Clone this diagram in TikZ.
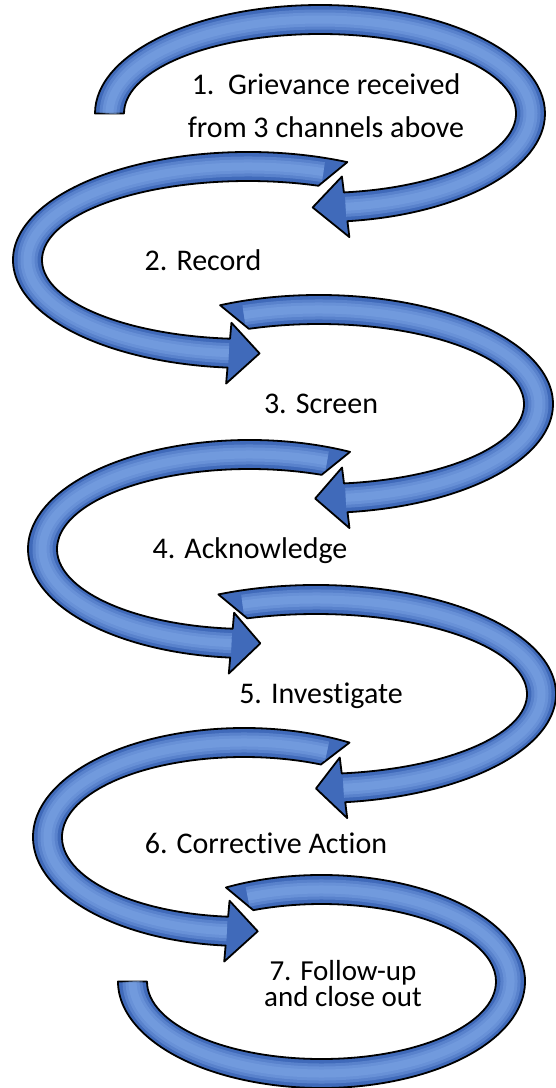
\documentclass[tikz,border=0pt]{standalone}
\usepackage{fontspec}
\setmainfont{Carlito}[Ligatures=NoCommon]

\definecolor{loopblue}{RGB}{64,106,186}
\definecolor{loopshine}{RGB}{128,168,232}

% band arrow: center, x radius, y radius, outer start, inner start, end, tip angle
\newcommand{\looparrow}[7]{%
  \pgfmathsetmacro{\lpix}{#2-29}\pgfmathsetmacro{\lpiy}{#3-29}%
  \pgfmathsetmacro{\lpmx}{#2-14.5}\pgfmathsetmacro{\lpmy}{#3-14.5}%
  \pgfmathsetmacro{\lpox}{#2+16}\pgfmathsetmacro{\lpoy}{#3+16}%
  \pgfmathsetmacro{\lpbx}{#2-45}\pgfmathsetmacro{\lpby}{#3-45}%
  \filldraw[band,shift={(#1)}] ({#2*cos(#4)},{#3*sin(#4)}) arc[start angle=#4,end angle=#6,x radius=#2,y radius=#3]
    -- ({\lpox*cos(#6)},{\lpoy*sin(#6)}) -- ({\lpmx*cos(#7)},{\lpmy*sin(#7)})
    -- ({\lpbx*cos(#6)},{\lpby*sin(#6)}) -- ({\lpix*cos(#6)},{\lpiy*sin(#6)})
    arc[start angle=#6,end angle=#5,x radius=\lpix,y radius=\lpiy] -- cycle;
  \foreach \w in {10,7,4}
    \draw[shine,line width=\w pt,shift={(#1)}] ({\lpmx*cos(#5)},{\lpmy*sin(#5)}) arc[start angle=#5,end angle=#6,x radius=\lpmx,y radius=\lpmy];
}

\begin{document}
\begin{tikzpicture}[x=0.5pt,y=-0.5pt]
\tikzstyle{band}=[fill=loopblue,draw=black,line width=0.9pt,line join=round]
\tikzstyle{shine}=[draw=loopshine,opacity=0.4]
\tikzstyle{steptext}=[font=\fontsize{15}{21.5}\selectfont,align=center,inner sep=0pt]
\useasboundingbox (0,0) rectangle (556,1088);

\coordinate (c1) at (320,113.5);
\coordinate (c2) at (248,260);
\coordinate (c3) at (319,404);
\coordinate (c4) at (249.5,549);
\coordinate (c5) at (316,694);
\coordinate (c6) at (244,837);
\coordinate (c7) at (321.5,981.5);

\looparrow{c1}{225}{108.5}{180}{180}{443}{452}
\looparrow{c2}{235}{108}{295}{290}{95}{87}
\looparrow{c3}{234}{109}{245}{250}{443}{451}
\looparrow{c4}{221.5}{109}{297}{292}{95}{87}
\looparrow{c5}{240}{109}{246}{251}{443}{450}
\looparrow{c6}{211}{109}{300}{295}{95}{86}

% last loop ends without a head
\filldraw[band,shift={(c7)}] ({203.5*cos(242)},{106.5*sin(242)}) arc[start angle=242,end angle=540,x radius=203.5,y radius=106.5]
  -- (-174.5,0) arc[start angle=540,end angle=247,x radius=174.5,y radius=77.5] -- cycle;
\foreach \w in {10,7,4}
  \draw[shine,line width=\w pt,shift={(c7)}] ({189*cos(247)},{92*sin(247)}) arc[start angle=247,end angle=540,x radius=189,y radius=92];

\node[steptext] (t1) at (326,106) {1.~~Grievance received\\from 3 channels above};
\node[steptext,anchor=base] (t2) at (203,270) {2. Record};
\node[steptext,anchor=base] (t3) at (321,413) {3. Screen};
\node[steptext,anchor=base] (t4) at (250,558) {4. Acknowledge};
\node[steptext,anchor=base] (t5) at (321,703) {5. Investigate};
\node[steptext,anchor=base] (t6) at (266,853) {6. Corrective Action};
\node[steptext,font=\fontsize{14.5}{13}\selectfont] (t7) at (343,984) {7. Follow-up\\and close out};
\end{tikzpicture}
\end{document}
